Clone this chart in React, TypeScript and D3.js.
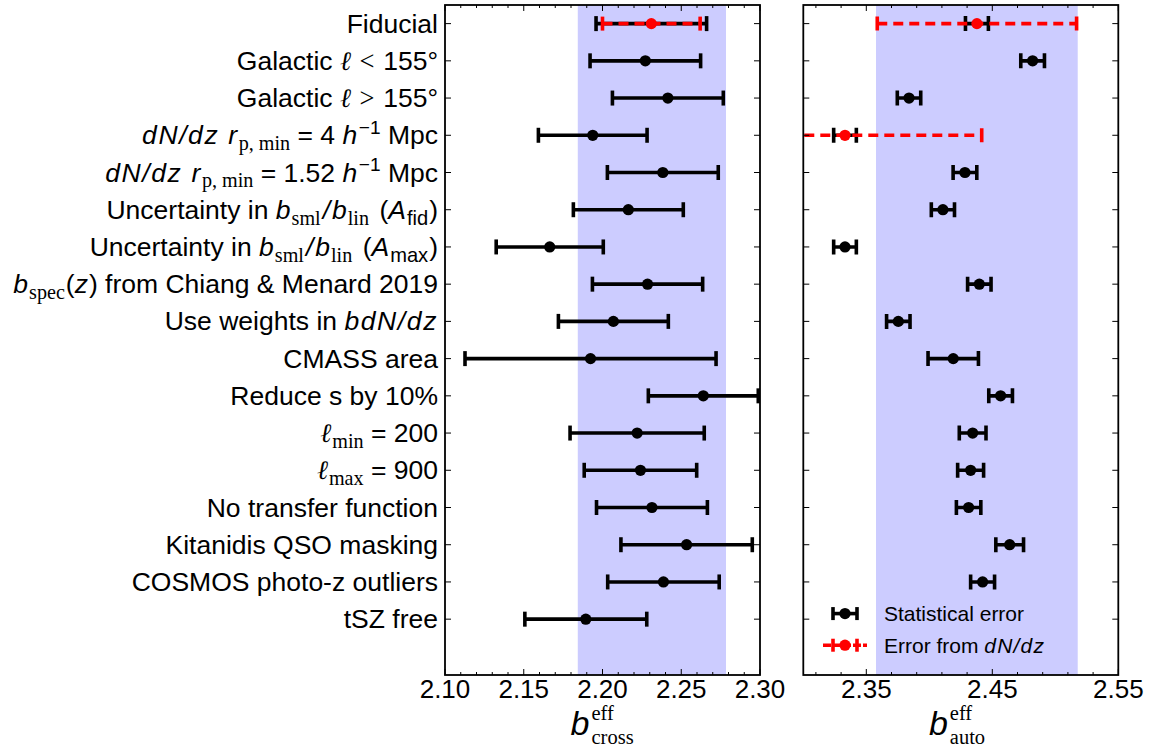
import React from 'react';
import * as d3 from 'd3';

type Seg = [string, string, number?];

// ---------------- data ----------------
const labels: Seg[][] = [
  [['Fiducial', 'n']],
  [['Galactic ', 'n'], ['ℓ', 'l'], [' < ', 'r', 2], ['155°', 'n', 2]],
  [['Galactic ', 'n'], ['ℓ', 'l'], [' > ', 'r', 2], ['155°', 'n', 2]],
  [['dN', 'm'], ['/', 'm'], ['dz', 'm'], [' r', 'm'], ['p, min', 'sr'], [' = 4 ', 'n'], ['h', 'm'], ['−1', 'pn'], [' Mpc', 'n']],
  [['dN', 'm'], ['/', 'm'], ['dz', 'm'], [' r', 'm'], ['p, min', 'sr'], [' = 1.52 ', 'n'], ['h', 'm'], ['−1', 'pn'], [' Mpc', 'n']],
  [['Uncertainty in ', 'n'], ['b', 'i'], ['sml', 'sr', 1], ['/', 'i', 2], ['b', 'i', 2], ['lin', 'sr', 1], [' (', 'n', 3], ['A', 'i'], ['fid', 'sn', 1], [')', 'n', 1]],
  [['Uncertainty in ', 'n'], ['b', 'i'], ['sml', 'sr', 1], ['/', 'i', 2], ['b', 'i', 2], ['lin', 'sr', 1], [' (', 'n', 3], ['A', 'i'], ['max', 'sn', 1], [')', 'n', 1]],
  [['b', 'i'], ['spec', 'sr', 1], ['(', 'n', 1], ['z', 'i'], [') from Chiang & Menard 2019', 'n', 1]],
  [['Use weights in ', 'n'], ['bdN', 'm'], ['/', 'm'], ['dz', 'm']],
  [['CMASS area', 'n']],
  [['Reduce s by 10%', 'n']],
  [['ℓ', 'l'], ['min', 'sr', 1], [' = 200', 'n']],
  [['ℓ', 'l'], ['max', 'sr', 1], [' = 900', 'n']],
  [['No transfer function', 'n']],
  [['Kitanidis QSO masking', 'n']],
  [['COSMOS photo-z outliers', 'n']],
  [['tSZ free', 'n']],
];

const crossVal = [2.2310, 2.2272, 2.2415, 2.1938, 2.2383, 2.2164, 2.1665, 2.2286, 2.2069, 2.1924, 2.2640, 2.2220, 2.2241, 2.2314, 2.2534, 2.2387, 2.1894];
const crossErr = [0.0351, 0.0351, 0.0352, 0.0345, 0.0352, 0.0349, 0.0340, 0.0350, 0.0349, 0.0797, 0.0349, 0.0426, 0.0357, 0.0352, 0.0417, 0.0354, 0.0387];
const crossDnErr: (number | null)[] = [0.031, null, null, null, null, null, null, null, null, null, null, null, null, null, null, null, null];

const autoVal: (number | null)[] = [2.4378, 2.4820, 2.3839, 2.3331, 2.4283, 2.4108, 2.3331, 2.4397, 2.3754, 2.4190, 2.4566, 2.4344, 2.4328, 2.4312, 2.4638, 2.4423, null];
const autoErr = [0.0091, 0.0094, 0.0093, 0.0090, 0.0094, 0.0092, 0.0090, 0.0093, 0.0093, 0.0200, 0.0094, 0.0106, 0.0103, 0.0097, 0.0110, 0.0095, 0];
const autoDnErr: (number | null)[] = [0.0791, null, null, 0.1085, null, null, null, null, null, null, null, null, null, null, null, null, null];

const crossBand = [2.1843, 2.2784];
const autoBand = [2.3577, 2.5178];

const crossDomain = [2.10, 2.30];
const autoDomain = [2.30, 2.55];
const crossMajor = [2.10, 2.15, 2.20, 2.25, 2.30];
const autoMajor = [2.35, 2.45, 2.55];
const crossMinor = [2.11, 2.12, 2.13, 2.14, 2.16, 2.17, 2.18, 2.19, 2.21, 2.22, 2.23, 2.24, 2.26, 2.27, 2.28, 2.29];
const autoMinor = [2.31, 2.33, 2.37, 2.39, 2.41, 2.43, 2.47, 2.49, 2.51, 2.53];

const legendItems = ['Statistical error', 'Error from '];

// ---------------- style ----------------
const SANS = "'Liberation Sans', Arial, Helvetica, sans-serif";
const SERIF = "'Liberation Serif', 'DejaVu Serif', serif";
const ELL = "'DejaVu Serif', serif";
const FS = 26.5;
const TICK_FS = 26;
const TOP = 5, BOT = 675;
const BAND = '#ccccff';
const RED = '#ff0000';

const yScale = d3.scaleLinear().domain([-0.5, 17.5]).range([TOP, BOT]);

function Rich({ segs, x, y, size, anchor }: { segs: Seg[]; x: number; y: number; size: number; anchor: string }) {
  let off = 0;
  const spans = segs.map((s, k) => {
    const [t, st, extra] = s;
    let target = 0;
    let fs = size;
    let family = SANS;
    let fstyle = 'normal';
    let ls = 0;
    if (st === 'i') fstyle = 'italic';
    if (st === 'm') { fstyle = 'italic'; ls = 1.6; }
    if (st === 'r' || st === 'sr') family = SERIF;
    if (st === 'l') { family = ELL; fstyle = 'italic'; }
    if (st === 'sr' || st === 'sn') { target = size * 0.22; fs = size * 0.76; }
    if (st === 'pn') { target = -size * 0.38; fs = size * 0.72; }
    const dy = target - off;
    off = target;
    return (
      <tspan key={k} dy={dy} dx={extra || 0} fontFamily={family} fontStyle={fstyle} fontSize={fs}
        letterSpacing={ls || undefined}>{t}</tspan>
    );
  });
  return (
    <text x={x} y={y} textAnchor={anchor} style={{ whiteSpace: 'pre' }} fill="#000">{spans}</text>
  );
}

function ErrBar({ sx, y, v, e, color, dashed, capH, lw }: any) {
  const x1 = sx(v - e), x2 = sx(v + e);
  return (
    <g>
      <line x1={x1} x2={x2} y1={y} y2={y} stroke={color} strokeWidth={lw} strokeDasharray={dashed ? '10 6' : undefined} />
      <line x1={x1} x2={x1} y1={y - capH / 2} y2={y + capH / 2} stroke={color} strokeWidth={lw} />
      <line x1={x2} x2={x2} y1={y - capH / 2} y2={y + capH / 2} stroke={color} strokeWidth={lw} />
    </g>
  );
}

function Panel({ id, x0, x1, domain, band, major, minor, vals, errs, dnErrs, sub }: any) {
  const sx = d3.scaleLinear().domain(domain).range([x0, x1]);
  const cx = (x0 + x1) / 2;
  const rows = d3.range(vals.length);
  const fmt = d3.format('.2f');
  return (
    <g>
      <defs>
        <clipPath id={id}>
          <rect x={x0} y={TOP} width={x1 - x0} height={BOT - TOP} />
        </clipPath>
      </defs>
      <rect x={sx(band[0])} y={TOP} width={sx(band[1]) - sx(band[0])} height={BOT - TOP} fill={BAND} />
      <g clipPath={`url(#${id})`}>
        {rows.map((i: number) => {
          const v = vals[i];
          if (v === null) return null;
          const y = yScale(i);
          const dn = dnErrs[i];
          return (
            <g key={i}>
              <ErrBar sx={sx} y={y} v={v} e={errs[i]} color="#000" capH={15} lw={3.6} />
              {dn !== null && <ErrBar sx={sx} y={y} v={v} e={dn} color={RED} dashed capH={14} lw={3.6} />}
              <circle cx={sx(v)} cy={y} r={5.6} fill={dn !== null ? RED : '#000'} />
            </g>
          );
        })}
      </g>
      {rows.map((i: number) => (
        <g key={'yt' + i}>
          <line x1={x0} x2={x0 + 6} y1={yScale(i)} y2={yScale(i)} stroke="#000" strokeWidth={1} />
          <line x1={x1 - 6} x2={x1} y1={yScale(i)} y2={yScale(i)} stroke="#000" strokeWidth={1} />
        </g>
      ))}
      {major.map((t: number) => (
        <g key={'mj' + t}>
          <line x1={sx(t)} x2={sx(t)} y1={BOT} y2={BOT - 6} stroke="#000" strokeWidth={1} />
          <line x1={sx(t)} x2={sx(t)} y1={TOP} y2={TOP + 6} stroke="#000" strokeWidth={1} />
          <text x={sx(t)} y={698} textAnchor="middle" fontFamily={SANS} fontSize={TICK_FS}>{fmt(t)}</text>
        </g>
      ))}
      {minor.map((t: number) => (
        <g key={'mn' + t}>
          <line x1={sx(t)} x2={sx(t)} y1={BOT} y2={BOT - 3} stroke="#000" strokeWidth={1} />
          <line x1={sx(t)} x2={sx(t)} y1={TOP} y2={TOP + 3} stroke="#000" strokeWidth={1} />
        </g>
      ))}
      <rect x={x0} y={TOP} width={x1 - x0} height={BOT - TOP} fill="none" stroke="#000" strokeWidth={1.8} />
      <text x={cx - 13} y={735} textAnchor="end" fontFamily={SANS} fontStyle="italic" fontSize={34}>b</text>
      <text x={cx - 11} y={720} fontFamily={SERIF} fontSize={20.5}>eff</text>
      <text x={cx - 11} y={744} fontFamily={SERIF} fontSize={20.5}>{sub}</text>
    </g>
  );
}

export default function App() {
  const legendY = [yScale(15.85), yScale(16.7)];
  const lx = 845;
  return (
    <svg width={1156} height={747} style={{ position: 'absolute', left: 0, top: 0, background: '#fff' }}>
      <rect x={0} y={0} width={1156} height={747} fill="#fff" />
      {labels.map((segs, i) => (
        <Rich key={i} segs={segs} x={438} y={yScale(i) + 9} size={FS} anchor="end" />
      ))}
      <Panel id="clipCross" x0={445} x1={760} domain={crossDomain} band={crossBand} major={crossMajor} minor={crossMinor}
        vals={crossVal} errs={crossErr} dnErrs={crossDnErr} sub="cross" />
      <Panel id="clipAuto" x0={803.3} x1={1118.3} domain={autoDomain} band={autoBand} major={autoMajor} minor={autoMinor}
        vals={autoVal} errs={autoErr} dnErrs={autoDnErr} sub="auto" />
      <g>
        <line x1={lx - 12} x2={lx + 12} y1={legendY[0]} y2={legendY[0]} stroke="#000" strokeWidth={3.6} />
        <line x1={lx - 12} x2={lx - 12} y1={legendY[0] - 6.5} y2={legendY[0] + 6.5} stroke="#000" strokeWidth={3.6} />
        <line x1={lx + 12} x2={lx + 12} y1={legendY[0] - 6.5} y2={legendY[0] + 6.5} stroke="#000" strokeWidth={3.6} />
        <circle cx={lx} cy={legendY[0]} r={5.6} fill="#000" />
        <text x={884} y={legendY[0] + 7.5} fontFamily={SANS} fontSize={21}>{legendItems[0]}</text>

        <line x1={lx - 22} x2={lx + 22} y1={legendY[1]} y2={legendY[1]} stroke={RED} strokeWidth={3.6} strokeDasharray="8 2" />
        <line x1={lx - 12} x2={lx - 12} y1={legendY[1] - 6.5} y2={legendY[1] + 6.5} stroke={RED} strokeWidth={3.6} />
        <line x1={lx + 12} x2={lx + 12} y1={legendY[1] - 6.5} y2={legendY[1] + 6.5} stroke={RED} strokeWidth={3.6} />
        <circle cx={lx} cy={legendY[1]} r={5.6} fill={RED} />
        <text x={884} y={legendY[1] + 7.5} fontFamily={SANS} fontSize={21} style={{ whiteSpace: 'pre' }}>
          <tspan>{legendItems[1]}</tspan>
          <tspan fontStyle="italic" letterSpacing={1.2}>dN/dz</tspan>
        </text>
      </g>
    </svg>
  );
}
